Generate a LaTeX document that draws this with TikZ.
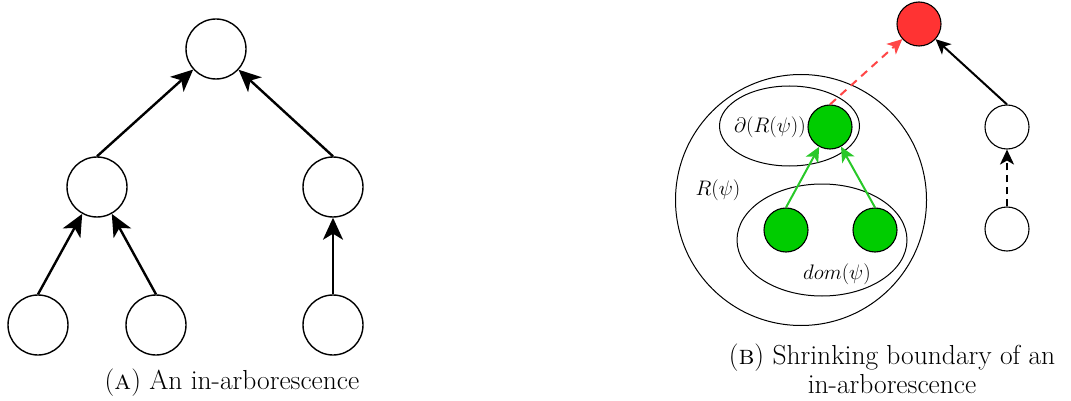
\RequirePackage{fix-cm}
\documentclass[tikz,border=0pt]{standalone}
\usetikzlibrary{arrows.meta}
\definecolor{nodered}{RGB}{255,51,51}
\definecolor{nodegreen}{RGB}{0,204,0}
\definecolor{arrgreen}{RGB}{40,200,40}
\definecolor{arrred}{RGB}{255,70,70}
\begin{document}
\begin{tikzpicture}[x=1pt,y=-1pt,
  bignode/.style={circle,draw,line width=1.4pt,minimum size=60pt,inner sep=0pt,fill=white},
  smallnode/.style={circle,draw,line width=1.1pt,minimum size=44pt,inner sep=0pt,fill=white},
  bigarrow/.style={line width=2.4pt,-{Stealth[length=22pt,width=20pt,inset=6pt]}},
  smallarrow/.style={line width=2pt,-{Stealth[length=15pt,width=14pt,inset=4pt]}},
  region/.style={draw,line width=1pt},
  mathlabel/.style={font=\fontsize{21}{24}\selectfont,inner sep=0pt},
  captiontext/.style={font=\fontsize{27.5}{29}\selectfont,align=center,inner sep=0pt,anchor=base}
]
\useasboundingbox (0,0) rectangle (1071,401);

% ---- panel A ----
\node[bignode] (top) at (216,49) {};
\node[bignode] (ml) at (97,187) {};
\node[bignode] (mr) at (333,187) {};
\node[bignode] (bl) at (38,325) {};
\node[bignode] (bm) at (156,325) {};
\node[bignode] (br) at (333,325) {};
\draw[bigarrow] (ml.north) -- (top);
\draw[bigarrow] (mr.north) -- (top);
\draw[bigarrow] (bl.north) -- (ml);
\draw[bigarrow] (bm.north) -- (ml);
\draw[bigarrow] (br.north) -- (mr.south);
\node[captiontext] (capA) at (232,389) {(\textsc{a}) An in-arborescence};

% ---- panel B ----
\node[region,circle,minimum size=251pt,inner sep=0pt] (Rpsi) at (801,200) {};
\draw[region] (789.5,126) ellipse [x radius=70, y radius=40];
\draw[region] (822,240) ellipse [x radius=85, y radius=56];
\node[smallnode,fill=nodered] (red) at (919,24) {};
\node[smallnode,fill=nodegreen] (g1) at (830,127) {};
\node[smallnode,fill=nodegreen] (g2) at (786,230) {};
\node[smallnode,fill=nodegreen] (g3) at (875,230) {};
\node[smallnode] (w1) at (1007,127) {};
\node[smallnode] (w2) at (1007,229) {};
\draw[smallarrow,color=arrred,dash pattern=on 8pt off 6pt] (g1.north) -- (red);
\draw[smallarrow] (w1.north) -- (red);
\draw[smallarrow,dash pattern=on 7pt off 5pt] (w2.north) -- (w1.south);
\draw[smallarrow,color=arrgreen] (g2.north) -- (g1);
\draw[smallarrow,color=arrgreen] (g3.north) -- (g1);
\node[mathlabel] (lbd) at (770,127) {$\partial(R(\psi))$};
\node[mathlabel] (lbr) at (718,190) {$R(\psi)$};
\node[mathlabel] (lbdom) at (837,274) {$dom(\psi)$};
\node[captiontext] (capB) at (892,393) {(\textsc{b}) Shrinking boundary of an\\in-arborescence};
\end{tikzpicture}
\end{document}
